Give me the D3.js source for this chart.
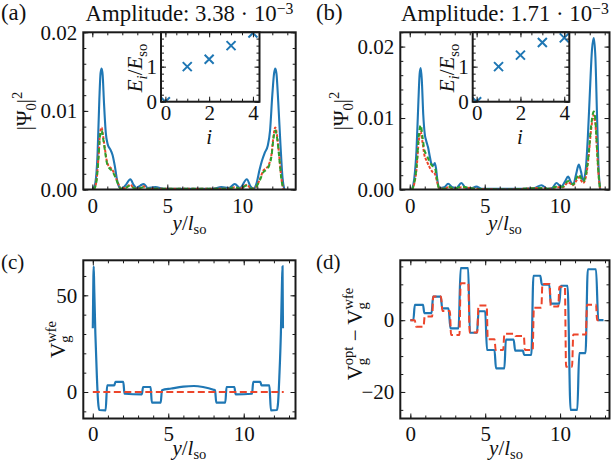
<!DOCTYPE html>
<html><head><meta charset="utf-8">
<script src="https://cdn.jsdelivr.net/npm/d3@7"></script>
<style>
html,body{margin:0;padding:0;background:#fff;}
svg{display:block;}
</style></head><body>
<svg id="fig" width="612" height="462"></svg>
<script>
// ---------------- DATA ----------------
const panelLetters = ["(a)", "(b)", "(c)", "(d)"];
const amplitudes = ["3.38", "1.71"];
const ampExponent = "\u22123";
const xTicksMain = [0, 5, 10];
const yTicksPsi = [0, 0.01, 0.02];
const yTicksV = [0, 50];
const yTicksDV = [-20, 0];
const xTicksInset = [0, 2, 4];
const yTicksInset = [0, 1];
const levelIndex = [0, 1, 2, 3, 4];
const energiesA = [0.0, 1.0, 1.21, 1.6, 1.96];
const energiesB = [0.0, 1.0, 1.33, 1.69, 1.82];

// |Psi_0|^2, panel (a): [y/l_so, value]
const psiA_blue = [[0.05,0],[0.2,0.0008],[0.35,0.0045],[0.47,0.0115],[0.55,0.0148],[0.62,0.0154],[0.69,0.0146],[0.78,0.011],[0.9,0.0072],[1.02,0.0058],[1.2,0.0051],[1.35,0.0044],[1.5,0.003],[1.65,0.0012],[1.8,0.0003],[1.95,0.0001],[2.2,0.0005],[2.54,0.0013],[2.75,0.0006],[2.94,0.0002],[3.2,0.0005],[3.42,0.0007],[3.7,0.0002],[4.2,0.0003],[4.8,0.0001],[5.5,0.0001],[6.4,0.0001],[7.3,0.0001],[8.0,0.0001],[8.6,0.0003],[9.1,0.0002],[9.5,0.0007],[9.85,0.0002],[10.3,0.0013],[10.55,0.0004],[10.75,0.0001],[10.95,0.0008],[11.15,0.0025],[11.3,0.0036],[11.5,0.0047],[11.7,0.0056],[11.85,0.0075],[12.0,0.012],[12.12,0.0148],[12.2,0.0154],[12.28,0.0147],[12.4,0.011],[12.55,0.0055],[12.68,0.0015],[12.8,0]];
const psiA_red = [[0.1,0],[0.25,0.0008],[0.4,0.0038],[0.52,0.0072],[0.62,0.0079],[0.72,0.0068],[0.84,0.0052],[0.95,0.0038],[1.06,0.0031],[1.25,0.0027],[1.4,0.0023],[1.55,0.0016],[1.72,0.0008],[1.9,0.0001],[2.2,0.0002],[2.54,0.0006],[2.75,0.0002],[2.94,0.0001],[3.2,0.0002],[3.42,0.0004],[3.7,0.0001],[5.0,0.0001],[6.4,0.0001],[8.0,0.0001],[9.1,0.0001],[9.5,0.0003],[9.85,0.0001],[10.3,0.0006],[10.6,0.0001],[10.9,0.0003],[11.15,0.0012],[11.4,0.0024],[11.6,0.0027],[11.78,0.0032],[11.95,0.0045],[12.08,0.0068],[12.2,0.0079],[12.3,0.0071],[12.45,0.0045],[12.6,0.0015],[12.75,0]];
const psiA_green = [[0.1,0],[0.25,0.0007],[0.4,0.0036],[0.52,0.0069],[0.62,0.0075],[0.72,0.0065],[0.84,0.005],[0.95,0.0036],[1.06,0.0029],[1.25,0.0025],[1.4,0.0021],[1.55,0.0015],[1.72,0.0007],[1.9,0.0001],[2.2,0.0002],[2.54,0.0005],[2.75,0.0002],[2.94,0.0001],[3.2,0.0002],[3.42,0.0003],[3.7,0.0001],[5.0,0.0001],[6.4,0.0001],[8.0,0.0001],[9.1,0.0001],[9.5,0.0003],[9.85,0.0001],[10.3,0.0005],[10.6,0.0001],[10.9,0.0003],[11.15,0.0011],[11.4,0.0022],[11.6,0.0025],[11.78,0.003],[11.95,0.0043],[12.08,0.0065],[12.2,0.0075],[12.3,0.0068],[12.45,0.0043],[12.6,0.0014],[12.75,0]];

// |Psi_0|^2, panel (b)
const psiB_blue = [[0.15,0],[0.3,0.0015],[0.45,0.0055],[0.58,0.0125],[0.66,0.0162],[0.73,0.017],[0.8,0.0155],[0.9,0.0105],[1.0,0.0078],[1.1,0.0068],[1.22,0.0059],[1.33,0.0047],[1.45,0.0036],[1.58,0.0034],[1.67,0.0037],[1.75,0.003],[1.85,0.0012],[2.0,0.0002],[2.3,0.0003],[2.56,0.0008],[2.85,0.0003],[3.1,0.0002],[3.44,0.0009],[3.75,0.0002],[4.1,0.0002],[4.44,0.0004],[4.8,0.0001],[5.5,0.0001],[6.5,0.0001],[7.5,0.0001],[8.3,0.0002],[8.78,0.0006],[9.2,0.0001],[9.5,0.0002],[9.78,0.0009],[10.1,0.0004],[10.35,0.0011],[10.56,0.0018],[10.75,0.001],[10.9,0.0007],[11.1,0.0022],[11.27,0.0035],[11.42,0.0025],[11.56,0.0013],[11.72,0.0025],[11.88,0.0075],[12.02,0.014],[12.15,0.0195],[12.27,0.0212],[12.38,0.0185],[12.48,0.011],[12.58,0.0035],[12.7,0]];
const psiB_red = [[0.15,0],[0.3,0.0008],[0.45,0.0028],[0.6,0.0068],[0.73,0.0081],[0.85,0.0066],[0.98,0.0048],[1.11,0.0041],[1.3,0.0032],[1.5,0.0025],[1.67,0.0022],[1.8,0.0013],[1.95,0.0002],[2.3,0.0001],[2.56,0.0003],[3.0,0.0001],[3.44,0.0003],[4.4,0.0001],[6.5,0.0],[8.78,0.0002],[9.3,0.0001],[9.78,0.0003],[10.2,0.0003],[10.56,0.001],[10.9,0.0006],[11.1,0.0012],[11.27,0.0017],[11.42,0.0013],[11.56,0.0009],[11.75,0.0018],[11.92,0.0045],[12.1,0.0085],[12.27,0.0104],[12.38,0.0092],[12.5,0.005],[12.6,0.0018],[12.7,0]];
const psiB_green = [[0.15,0],[0.3,0.0009],[0.45,0.0031],[0.6,0.0075],[0.73,0.009],[0.85,0.0074],[0.98,0.0055],[1.11,0.0049],[1.3,0.004],[1.5,0.0033],[1.67,0.0031],[1.8,0.0017],[1.95,0.0002],[2.3,0.0001],[2.56,0.0004],[3.0,0.0001],[3.44,0.0004],[4.4,0.0001],[6.5,0.0],[8.78,0.0002],[9.3,0.0001],[9.78,0.0004],[10.2,0.0004],[10.56,0.0012],[10.9,0.0007],[11.1,0.0015],[11.27,0.0021],[11.42,0.0016],[11.56,0.0011],[11.75,0.0021],[11.92,0.0048],[12.1,0.009],[12.27,0.0109],[12.38,0.0097],[12.5,0.0053],[12.6,0.0019],[12.7,0]];

// V_g^wfe, panel (c)
const vWfe = [[0,33],[0.04,60],[0.06,65],[0.09,55],[0.17,30],[0.27,8],[0.35,-5],[0.43,-9.3],[0.85,-9.5],[0.95,3.4],[1.42,3.4],[1.5,5.2],[2.02,5.2],[2.1,-0.9],[3.25,-1.2],[3.33,2.6],[3.83,2.6],[3.91,-5.5],[4.5,-5.5],[4.58,0.9],[5.2,1.8],[6.0,2.8],[6.7,3.1],[7.3,2.6],[8.0,1.2],[8.1,0.9],[8.18,-5.5],[8.78,-5.5],[8.86,2.6],[9.38,2.6],[9.46,-1.2],[10.55,-0.9],[10.63,5.2],[11.1,5.2],[11.18,3.4],[11.7,3.4],[11.8,-9.5],[12.2,-9.3],[12.28,-5],[12.36,8],[12.46,30],[12.53,55],[12.57,65],[12.6,33]];
const vRef = [[0,0],[12.65,0]];

// V_g^opt - V_g^wfe, panel (d)
const dV_blue = [[0,0],[0.2,0],[0.3,4.3],[0.85,4.3],[0.93,2.0],[1.42,2.0],[1.52,6.6],[2.03,6.6],[2.13,3.3],[2.55,3.3],[2.68,-2.3],[3.22,-2.3],[3.36,14.5],[3.86,14.5],[3.98,-3.5],[4.45,-3.5],[4.56,2.5],[5.0,2.5],[5.12,-8.3],[5.62,-8.3],[5.72,-13.4],[6.28,-13.4],[6.38,-5.4],[6.9,-5.4],[7.0,-8.5],[7.52,-8.5],[7.6,-9.7],[8.08,-9.7],[8.22,12.4],[8.68,12.4],[8.78,9.9],[9.28,9.9],[9.38,4.6],[9.95,4.6],[10.05,9.6],[10.5,9.6],[10.7,-25],[11.15,-25],[11.28,-9.2],[11.7,-9.2],[11.85,14.2],[12.4,14.2],[12.55,0],[12.9,0]];
const dV_red = [[0,0],[0.3,0],[0.38,-1.8],[0.88,-1.8],[0.96,1.0],[1.46,1.0],[1.53,6.6],[2.05,6.6],[2.14,2.6],[2.64,2.6],[2.72,-4.1],[3.28,-4.1],[3.36,10.3],[3.87,10.3],[3.96,-3.4],[4.47,-3.4],[4.55,4.1],[5.1,4.1],[5.17,-5.3],[5.62,-5.3],[5.7,-8.3],[6.2,-8.3],[6.28,-3.8],[6.98,-3.8],[7.03,-4.4],[7.58,-4.4],[7.65,-8.3],[8.17,-8.3],[8.25,3.5],[8.75,3.5],[8.82,10.1],[9.3,10.1],[9.38,3.8],[9.88,3.8],[9.95,9.3],[10.32,9.3],[10.4,-13.0],[10.8,-13.0],[10.88,-4.0],[11.72,-4.0],[11.8,4.3],[12.4,4.3],[12.47,0],[12.72,0]];

// ---------------- STYLE / LAYOUT ----------------
const FONT = "'Liberation Serif','Times New Roman',serif";
const FS = 21, SS = 14.5;
const C_BLUE = "#1f77b4", C_RED = "#ec452b", C_GREEN = "#2ca02c", C_AX = "#1a1a1a";
const svg = d3.select("#fig");
svg.append("rect").attr("width", 612).attr("height", 462).attr("fill", "#fff");

let clipId = 0;
function clipFor(x, y) {
  const id = "clip" + (clipId++);
  const [xl, xr] = x.range(), [yb, yt] = y.range();
  svg.append("clipPath").attr("id", id).append("rect")
    .attr("x", xl).attr("y", yt).attr("width", xr - xl).attr("height", yb - yt);
  return "url(#" + id + ")";
}

function axes(g, x, y, o) {
  const [xl, xr] = x.range(), [yb, yt] = y.range();
  const style = s => {
    s.attr("font-family", FONT).attr("font-size", FS).attr("color", "#111");
    s.select(".domain").remove();
    s.selectAll("line").attr("stroke", C_AX).attr("stroke-width", 1);
  };
  const add = (tr, ax) => g.append("g").attr("transform", tr).call(ax).call(style);
  add(`translate(0,${yb})`, d3.axisBottom(x).tickValues(o.xMaj).tickSize(-o.maj).tickPadding(o.xPad).tickFormat(o.xFmt));
  add(`translate(0,${yb})`, d3.axisBottom(x).tickValues(o.xMin).tickSize(-o.min).tickFormat(""));
  add(`translate(0,${yt})`, d3.axisTop(x).tickValues(o.xMaj).tickSize(-o.maj).tickFormat(""));
  add(`translate(0,${yt})`, d3.axisTop(x).tickValues(o.xMin).tickSize(-o.min).tickFormat(""));
  add(`translate(${xl},0)`, d3.axisLeft(y).tickValues(o.yMaj).tickSize(-o.maj).tickPadding(o.yPad).tickFormat(o.yFmt));
  add(`translate(${xl},0)`, d3.axisLeft(y).tickValues(o.yMin).tickSize(-o.min).tickFormat(""));
  add(`translate(${xr},0)`, d3.axisRight(y).tickValues(o.yMaj).tickSize(-o.maj).tickFormat(""));
  add(`translate(${xr},0)`, d3.axisRight(y).tickValues(o.yMin).tickSize(-o.min).tickFormat(""));
  g.append("rect").attr("x", xl).attr("y", yt).attr("width", xr - xl).attr("height", yb - yt)
    .attr("fill", "none").attr("stroke", C_AX).attr("stroke-width", 2);
}

// rich text with sub/superscripts
function rich(t, parts, supUp, subDn) {
  let shift = 0, prev = null;
  parts.forEach(p => {
    const target = p.sub ? (subDn || 5) : p.sup ? -(supUp || 9) : 0;
    const ts = t.append("tspan").text(p.t)
      .attr("font-size", (p.sub || p.sup) ? SS : FS)
      .attr("font-style", p.it ? "italic" : "normal")
      .attr("dy", target - shift);
    if (p.stack && prev) ts.attr("dx", -prev.node().getComputedTextLength());
    shift = target; prev = ts;
  });
}
function label(x, y, parts, rot, anchor, supUp, subDn) {
  const t = svg.append("text").attr("font-family", FONT).attr("font-size", FS).attr("fill", "#111")
    .attr("text-anchor", anchor || "middle")
    .attr("transform", `translate(${x},${y})` + (rot ? " rotate(-90)" : ""));
  rich(t, parts, supUp, subDn);
  return t;
}
// title fitted to the width it spans in the figure
function title(cx, base, width, parts) {
  const g = svg.append("g");
  const t = g.append("text").attr("font-family", FONT).attr("font-size", FS).attr("fill", "#111")
    .attr("text-anchor", "middle");
  rich(t, parts, 6);
  const w = t.node().getBBox().width;
  const k = Math.max(0.9, Math.min(1.3, width / w));
  g.attr("transform", `translate(${cx},${base}) scale(${k})`);
  return k;
}
const xLabelParts = [{t: "y", it: true}, {t: "/"}, {t: "l", it: true}, {t: "so", sub: true}];

const line = (x, y) => d3.line().x(d => x(d[0])).y(d => y(d[1])).curve(d3.curveMonotoneX);

// ---------------- PANELS (a),(b) ----------------
function psiPanel(px, pyDom, blue, red, green, energies, amp, letter, ins, yLabX) {
  const x = d3.scaleLinear().domain(px.dom).range(px.rng);
  const y = d3.scaleLinear().domain(pyDom).range([189.5, 32.3]);
  const g = svg.append("g");
  const cp = clipFor(x, y);
  const lg = g.append("g").attr("clip-path", cp).attr("fill", "none");
  lg.append("path").attr("d", line(x, y)(blue)).attr("stroke", C_BLUE).attr("stroke-width", 2.1);
  lg.append("path").attr("d", line(x, y)(red)).attr("stroke", C_RED).attr("stroke-width", 2).attr("stroke-dasharray", "3,1.5");
  lg.append("path").attr("d", line(x, y)(green)).attr("stroke", C_GREEN).attr("stroke-width", 2).attr("stroke-dasharray", "4.5,3");
  axes(g, x, y, {xMaj: xTicksMain, xMin: d3.range(0, 14, 1), yMaj: yTicksPsi, yMin: d3.range(0, pyDom[1] + 1e-9, 0.002),
    maj: 5, min: 3, xPad: 9, yPad: 6, xFmt: d3.format("d"), yFmt: d3.format(".2f")});
  // inset
  const xi = d3.scaleLinear().domain(ins.dom).range(ins.rng);
  const yi = d3.scaleLinear().domain([0, 1.98]).range([101.7, 32.3]);
  g.append("rect").attr("x", ins.rng[0]).attr("y", 32.3).attr("width", ins.rng[1] - ins.rng[0]).attr("height", 101.7 - 32.3).attr("fill", "#fff");
  const cpi = clipFor(xi, yi);
  g.append("g").attr("clip-path", cpi).selectAll("path").data(levelIndex).join("path")
    .attr("transform", (d, i) => `translate(${xi(d)},${yi(energies[i])})`)
    .attr("d", "M-4.5,-4.5L4.5,4.5M-4.5,4.5L4.5,-4.5")
    .attr("stroke", C_BLUE).attr("stroke-width", 2).attr("fill", "none");
  axes(g, xi, yi, {xMaj: xTicksInset, xMin: d3.range(0, 4.01, 0.5), yMaj: yTicksInset, yMin: d3.range(0, 1.98, 0.2),
    maj: 5, min: 3, xPad: 3, yPad: 4, xFmt: d3.format("d"), yFmt: d3.format("d")});
  const icx = (ins.rng[0] + ins.rng[1]) / 2;
  label(icx - 1, 143.5, [{t: "i", it: true}]);
  label(ins.rng[0] - 19, 68, [{t: "E", it: true}, {t: "i", it: true, sub: true}, {t: "/"}, {t: "E", it: true}, {t: "so", sub: true}], true);
  // labels
  const cx = (px.rng[0] + px.rng[1]) / 2;
  label(cx, 230, xLabelParts, false, "middle", 9, 4);
  label(yLabX, 111, [{t: "|\u03A8"}, {t: "0", sub: true}, {t: "|"}, {t: "2", sup: true}], true);
  const k = title(cx, 20.5, 208, [{t: "Amplitude: " + amp + " \u00B7 10"}, {t: ampExponent, sup: true}]);
  label(letter.x, 19.5, [{t: letter.t}], false, "start").attr("font-size", FS * Math.min(k, 1.1))
    .selectAll("tspan").attr("font-size", FS * Math.min(k, 1.1));
}

psiPanel({dom: [-0.6, 13.56], rng: [83.3, 295.7]}, [0, 0.02], psiA_blue, psiA_red, psiA_green, energiesA, amplitudes[0],
  {t: panelLetters[0], x: 1}, {dom: [-0.2, 4.3], rng: [161, 259.5]}, 31);
psiPanel({dom: [-0.63, 13.32], rng: [400.3, 609.5]}, [0, 0.022], psiB_blue, psiB_red, psiB_green, energiesB, amplitudes[1],
  {t: panelLetters[1], x: 316}, {dom: [-0.18, 4.23], rng: [472.7, 569.3]}, 348);

// ---------------- PANEL (c) ----------------
(function () {
  const x = d3.scaleLinear().domain([-0.63, 13.43]).range([83.3, 295.5]);
  const y = d3.scaleLinear().domain([-13.7, 68.1]).range([418.5, 260.3]);
  const g = svg.append("g");
  const lg = g.append("g").attr("clip-path", clipFor(x, y)).attr("fill", "none");
  lg.append("path").attr("d", line(x, y)(vWfe)).attr("stroke", C_BLUE).attr("stroke-width", 2.2);
  lg.append("path").attr("d", line(x, y)(vRef)).attr("stroke", C_RED).attr("stroke-width", 2).attr("stroke-dasharray", "7,3.5");
  axes(g, x, y, {xMaj: xTicksMain, xMin: d3.range(0, 14, 1), yMaj: yTicksV, yMin: d3.range(-10, 61, 10),
    maj: 5, min: 3, xPad: 8, yPad: 6, xFmt: d3.format("d"), yFmt: d3.format("d")});
  label(189.4, 455, xLabelParts, false, "middle", 9, 3.5);
  label(65, 339.5, [{t: "V"}, {t: "g", sub: true}, {t: "wfe", sup: true, stack: true}], true);
  label(1, 268.5, [{t: panelLetters[2]}], false, "start");
})();

// ---------------- PANEL (d) ----------------
(function () {
  const x = d3.scaleLinear().domain([-0.67, 13.3]).range([400.3, 609.5]);
  const y = d3.scaleLinear().domain([-27.4, 16.7]).range([418.5, 260.3]);
  const g = svg.append("g");
  const lg = g.append("g").attr("clip-path", clipFor(x, y)).attr("fill", "none");
  lg.append("path").attr("d", line(x, y)(dV_blue)).attr("stroke", C_BLUE).attr("stroke-width", 2.2);
  lg.append("path").attr("d", line(x, y)(dV_red)).attr("stroke", C_RED).attr("stroke-width", 2).attr("stroke-dasharray", "7,3.5");
  axes(g, x, y, {xMaj: xTicksMain, xMin: d3.range(0, 14, 1), yMaj: yTicksDV, yMin: d3.range(-25, 16, 5),
    maj: 5, min: 3, xPad: 8, yPad: 6, xFmt: d3.format("d"), yFmt: d3.format("d")});
  label(506, 455, xLabelParts, false, "middle", 9, 3.5);
  label(361.5, 334, [{t: "V"}, {t: "g", sub: true}, {t: "opt", sup: true, stack: true}, {t: " \u2212 V"}, {t: "g", sub: true}, {t: "wfe", sup: true, stack: true}], true);
  label(316, 268.5, [{t: panelLetters[3]}], false, "start");
})();
</script>
</body></html>
